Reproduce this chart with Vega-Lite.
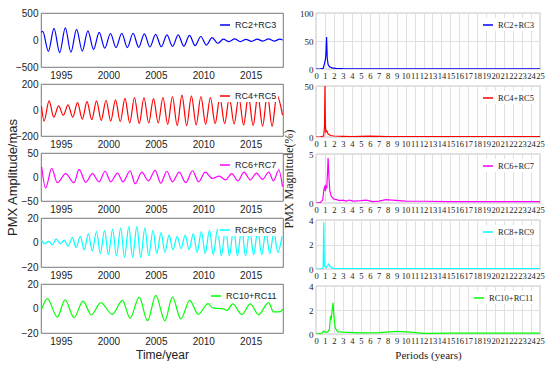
{
  "$schema": "https://vega.github.io/schema/vega-lite/v6.json",
  "padding": {"left": 5, "top": 7, "right": 0, "bottom": 0},
  "background": "white",
  "spacing": -3,
  "config": {
    "view": {"stroke": "#555555", "strokeWidth": 0.8},
    "axis": {"domain": false, "ticks": false, "grid": false, "labelColor": "#222222", "titleColor": "#222222", "titleFontWeight": "normal", "labelPadding": 3},
    "legend": {"orient": "top-right", "title": null, "offset": 5, "padding": 1, "fillColor": "white", "symbolType": "stroke", "symbolStrokeWidth": 1.5, "symbolSize": 100, "labelColor": "#222222"}
  },
  "resolve": {"scale": {"color": "independent", "x": "independent", "y": "independent"}, "legend": {"color": "independent"}},
  "datasets": {
    "p1": [
      {"t": 1992.95, "v": 140}, {"t": 1993.08, "v": 160}, {"t": 1993.68, "v": -210}, {"t": 1994.27, "v": 215}, {"t": 1994.87, "v": -235},
      {"t": 1995.46, "v": 225}, {"t": 1996.05, "v": -225}, {"t": 1996.65, "v": 195}, {"t": 1997.25, "v": -205}, {"t": 1997.84, "v": 170},
      {"t": 1998.44, "v": -175}, {"t": 1999.03, "v": 140}, {"t": 1999.62, "v": -150}, {"t": 2000.22, "v": 120}, {"t": 2000.81, "v": -140},
      {"t": 2001.41, "v": 125}, {"t": 2002.0, "v": -140}, {"t": 2002.6, "v": 125}, {"t": 2003.19, "v": -135}, {"t": 2003.79, "v": 115},
      {"t": 2004.38, "v": -130}, {"t": 2004.98, "v": 105}, {"t": 2005.57, "v": -125}, {"t": 2006.17, "v": 95}, {"t": 2006.76, "v": -120},
      {"t": 2007.36, "v": 95}, {"t": 2007.95, "v": -115}, {"t": 2008.55, "v": 85}, {"t": 2009.14, "v": -105}, {"t": 2009.74, "v": 65},
      {"t": 2010.33, "v": -95}, {"t": 2010.93, "v": 45}, {"t": 2011.52, "v": -60}, {"t": 2012.12, "v": 15}, {"t": 2012.71, "v": -30},
      {"t": 2013.31, "v": 20}, {"t": 2013.9, "v": -30}, {"t": 2014.5, "v": 10}, {"t": 2015.09, "v": -25}, {"t": 2015.69, "v": 15},
      {"t": 2016.28, "v": -20}, {"t": 2016.88, "v": 20}, {"t": 2017.47, "v": -20}, {"t": 2018.07, "v": 15}, {"t": 2018.35, "v": 0}
    ],
    "p2": [
      {"t": 1992.95, "v": 30}, {"t": 1993.22, "v": -85}, {"t": 1993.75, "v": 70}, {"t": 1994.25, "v": -55}, {"t": 1994.75, "v": 31},
      {"t": 1995.25, "v": -40}, {"t": 1995.75, "v": 39}, {"t": 1996.25, "v": -55}, {"t": 1996.75, "v": 57}, {"t": 1997.25, "v": -70},
      {"t": 1997.75, "v": 65}, {"t": 1998.25, "v": -75}, {"t": 1998.75, "v": 70}, {"t": 1999.25, "v": -80}, {"t": 1999.75, "v": 75},
      {"t": 2000.25, "v": -85}, {"t": 2000.75, "v": 78}, {"t": 2001.25, "v": -90}, {"t": 2001.75, "v": 90}, {"t": 2002.25, "v": -100},
      {"t": 2002.75, "v": 96}, {"t": 2003.25, "v": -105}, {"t": 2003.75, "v": 96}, {"t": 2004.25, "v": -100}, {"t": 2004.75, "v": 88},
      {"t": 2005.25, "v": -100}, {"t": 2005.75, "v": 96}, {"t": 2006.25, "v": -110}, {"t": 2006.75, "v": 104}, {"t": 2007.25, "v": -120},
      {"t": 2007.75, "v": 114}, {"t": 2008.25, "v": -120}, {"t": 2008.75, "v": 109}, {"t": 2009.25, "v": -115}, {"t": 2009.75, "v": 104},
      {"t": 2010.25, "v": -110}, {"t": 2010.75, "v": 96}, {"t": 2011.25, "v": -105}, {"t": 2011.75, "v": 96}, {"t": 2012.25, "v": -105},
      {"t": 2012.75, "v": 96}, {"t": 2013.25, "v": -108}, {"t": 2013.75, "v": 100}, {"t": 2014.25, "v": -115}, {"t": 2014.75, "v": 110},
      {"t": 2015.25, "v": -120}, {"t": 2015.75, "v": 114}, {"t": 2016.25, "v": -125}, {"t": 2016.75, "v": 122}, {"t": 2017.25, "v": -125},
      {"t": 2017.75, "v": 115}, {"t": 2018.35, "v": -40}
    ],
    "p3": [
      {"t": 1992.97, "v": 21}, {"t": 1993.39, "v": -23}, {"t": 1994.03, "v": 18}, {"t": 1994.62, "v": -12}, {"t": 1995.5, "v": 7},
      {"t": 1996.38, "v": -12}, {"t": 1996.91, "v": 16}, {"t": 1997.61, "v": -11}, {"t": 1998.31, "v": 7}, {"t": 1999.02, "v": -10},
      {"t": 1999.65, "v": 12}, {"t": 2000.25, "v": -10}, {"t": 2000.95, "v": 8}, {"t": 2001.55, "v": -10}, {"t": 2002.29, "v": 13},
      {"t": 2002.82, "v": -14}, {"t": 2003.52, "v": 10}, {"t": 2004.22, "v": -8}, {"t": 2004.93, "v": 14}, {"t": 2005.52, "v": -13},
      {"t": 2006.16, "v": 12}, {"t": 2006.75, "v": -10}, {"t": 2007.46, "v": 10}, {"t": 2008.16, "v": -12}, {"t": 2008.86, "v": 13},
      {"t": 2009.5, "v": -10}, {"t": 2010.2, "v": 10}, {"t": 2010.97, "v": -3}, {"t": 2011.68, "v": 2}, {"t": 2012.35, "v": -6},
      {"t": 2013.0, "v": 7}, {"t": 2013.65, "v": -8}, {"t": 2014.3, "v": 10}, {"t": 2014.95, "v": -6}, {"t": 2015.6, "v": 8},
      {"t": 2016.25, "v": -5}, {"t": 2016.9, "v": 10}, {"t": 2017.4, "v": -8}, {"t": 2017.95, "v": 15}, {"t": 2018.35, "v": -20}
    ],
    "p4": [
      {"t": 1992.95, "v": 2}, {"t": 1993.3, "v": -1}, {"t": 1993.7, "v": 1}, {"t": 1994.1, "v": -2}, {"t": 1994.5, "v": 3},
      {"t": 1994.95, "v": -1}, {"t": 1995.35, "v": 2}, {"t": 1995.75, "v": -3}, {"t": 1996.2, "v": 4}, {"t": 1996.6, "v": -4},
      {"t": 1997.05, "v": 5}, {"t": 1997.45, "v": -6}, {"t": 1997.9, "v": 7}, {"t": 1998.3, "v": -7}, {"t": 1998.75, "v": 9},
      {"t": 1999.15, "v": -9}, {"t": 1999.6, "v": 10}, {"t": 2000.0, "v": -10}, {"t": 2000.45, "v": 11}, {"t": 2000.85, "v": -11},
      {"t": 2001.3, "v": 12}, {"t": 2001.7, "v": -12}, {"t": 2002.15, "v": 13}, {"t": 2002.55, "v": -12}, {"t": 2003.0, "v": 13},
      {"t": 2003.4, "v": -12}, {"t": 2003.85, "v": 12}, {"t": 2004.25, "v": -11}, {"t": 2004.7, "v": 10}, {"t": 2005.1, "v": -9},
      {"t": 2005.55, "v": 8}, {"t": 2005.95, "v": -8}, {"t": 2006.4, "v": 6}, {"t": 2006.8, "v": -6}, {"t": 2007.25, "v": 5},
      {"t": 2007.65, "v": -5}, {"t": 2008.1, "v": 6}, {"t": 2008.5, "v": -6}, {"t": 2008.95, "v": 7}, {"t": 2009.35, "v": -8},
      {"t": 2009.8, "v": 9}, {"t": 2010.2, "v": -9}, {"t": 2010.65, "v": 10}, {"t": 2011.05, "v": -10}, {"t": 2011.5, "v": 11},
      {"t": 2011.9, "v": -11}, {"t": 2012.35, "v": 12}, {"t": 2012.75, "v": -11}, {"t": 2013.2, "v": 12}, {"t": 2013.6, "v": -11},
      {"t": 2014.05, "v": 12}, {"t": 2014.45, "v": -11}, {"t": 2014.9, "v": 11}, {"t": 2015.3, "v": -10}, {"t": 2015.75, "v": 10},
      {"t": 2016.15, "v": -10}, {"t": 2016.6, "v": 9}, {"t": 2017.0, "v": -9}, {"t": 2017.45, "v": 8}, {"t": 2017.85, "v": -8},
      {"t": 2018.3, "v": 5}
    ],
    "p5": [
      {"t": 1993.0, "v": 0}, {"t": 1993.57, "v": 8}, {"t": 1994.62, "v": -7}, {"t": 1995.43, "v": 7}, {"t": 1996.38, "v": -7.5},
      {"t": 1997.33, "v": 6}, {"t": 1998.2, "v": -5.3}, {"t": 1999.2, "v": 4.8}, {"t": 2000.42, "v": -4.8}, {"t": 2001.48, "v": 6.7},
      {"t": 2002.29, "v": -8}, {"t": 2003.24, "v": 9.3}, {"t": 2004.12, "v": -10}, {"t": 2005.0, "v": 10.7}, {"t": 2005.95, "v": -10},
      {"t": 2006.75, "v": 9.3}, {"t": 2007.63, "v": -8.5}, {"t": 2008.58, "v": 6.7}, {"t": 2009.46, "v": -4.8}, {"t": 2010.5, "v": 4},
      {"t": 2011.0, "v": 0.5}, {"t": 2011.7, "v": 0}, {"t": 2012.2, "v": -0.5}, {"t": 2012.5, "v": -1.5}, {"t": 2013.1, "v": 3.8},
      {"t": 2014.07, "v": -5}, {"t": 2014.95, "v": 3.8}, {"t": 2015.82, "v": -5}, {"t": 2016.88, "v": 4.8}, {"t": 2017.4, "v": -2.7},
      {"t": 2018.15, "v": -2.5}, {"t": 2018.35, "v": -0.5}
    ],
    "s1": [
      {"p": 0, "m": 0}, {"p": 0.5, "m": 0.2}, {"p": 0.8, "m": 1}, {"p": 0.95, "m": 10}, {"p": 1.05, "m": 17}, {"p": 1.12, "m": 30},
      {"p": 1.18, "m": 57}, {"p": 1.25, "m": 20}, {"p": 1.35, "m": 8}, {"p": 1.5, "m": 4}, {"p": 1.8, "m": 2}, {"p": 2.2, "m": 1},
      {"p": 3, "m": 0.5}, {"p": 5, "m": 0.3}, {"p": 10, "m": 0.2}, {"p": 15, "m": 0.1}, {"p": 20, "m": 0.1}, {"p": 25, "m": 0.1}
    ],
    "s2": [
      {"p": 0, "m": 0}, {"p": 0.5, "m": 0.2}, {"p": 0.85, "m": 1}, {"p": 0.95, "m": 10}, {"p": 1.0, "m": 50}, {"p": 1.05, "m": 12},
      {"p": 1.1, "m": 5}, {"p": 1.2, "m": 6}, {"p": 1.35, "m": 3}, {"p": 1.6, "m": 1.5}, {"p": 2, "m": 1}, {"p": 3, "m": 0.7},
      {"p": 4, "m": 0.5}, {"p": 6, "m": 0.8}, {"p": 8, "m": 0.5}, {"p": 10, "m": 0.4}, {"p": 12, "m": 0.5}, {"p": 15, "m": 0.3},
      {"p": 20, "m": 0.3}, {"p": 25, "m": 0.3}
    ],
    "s3": [
      {"p": 0, "m": 0}, {"p": 0.5, "m": 0.05}, {"p": 0.75, "m": 0.3}, {"p": 0.9, "m": 1.5}, {"p": 1.0, "m": 1.7}, {"p": 1.05, "m": 1.2},
      {"p": 1.12, "m": 1.8}, {"p": 1.2, "m": 1.5}, {"p": 1.28, "m": 3}, {"p": 1.35, "m": 4.6}, {"p": 1.45, "m": 2.5}, {"p": 1.55, "m": 1.2},
      {"p": 1.7, "m": 0.7}, {"p": 2, "m": 0.4}, {"p": 2.3, "m": 0.35}, {"p": 2.6, "m": 0.25}, {"p": 3, "m": 0.3}, {"p": 3.4, "m": 0.2},
      {"p": 3.7, "m": 0.3}, {"p": 4.2, "m": 0.2}, {"p": 5, "m": 0.25}, {"p": 5.6, "m": 0.3}, {"p": 6.3, "m": 0.15}, {"p": 7, "m": 0.2},
      {"p": 7.8, "m": 0.35}, {"p": 8.5, "m": 0.3}, {"p": 10, "m": 0.2}, {"p": 12, "m": 0.18}, {"p": 15, "m": 0.15}, {"p": 20, "m": 0.15},
      {"p": 25, "m": 0.15}
    ],
    "s4": [
      {"p": 0, "m": 0}, {"p": 0.6, "m": 0.02}, {"p": 0.8, "m": 0.1}, {"p": 0.87, "m": 3.8}, {"p": 0.93, "m": 0.3}, {"p": 1.1, "m": 0.1},
      {"p": 1.3, "m": 0.3}, {"p": 1.4, "m": 0.4}, {"p": 1.5, "m": 0.3}, {"p": 1.7, "m": 0.1}, {"p": 2, "m": 0.05}, {"p": 5, "m": 0.03},
      {"p": 25, "m": 0.03}
    ],
    "s5": [
      {"p": 0, "m": 0}, {"p": 0.6, "m": 0.05}, {"p": 0.85, "m": 0.25}, {"p": 1.0, "m": 0.15}, {"p": 1.3, "m": 0.15}, {"p": 1.5, "m": 0.4},
      {"p": 1.62, "m": 1.5}, {"p": 1.7, "m": 1.2}, {"p": 1.8, "m": 2}, {"p": 1.9, "m": 2.6}, {"p": 2.0, "m": 1.5}, {"p": 2.15, "m": 0.5},
      {"p": 2.4, "m": 0.2}, {"p": 3, "m": 0.15}, {"p": 5, "m": 0.1}, {"p": 7, "m": 0.12}, {"p": 9, "m": 0.22}, {"p": 10.5, "m": 0.15},
      {"p": 12, "m": 0.05}, {"p": 15, "m": 0.08}, {"p": 20, "m": 0.08}, {"p": 25, "m": 0.08}
    ]
  },
  "hconcat": [
    {
      "bounds": "flush",
      "spacing": 17,
      "resolve": {"scale": {"color": "independent", "x": "independent", "y": "independent"}, "legend": {"color": "independent"}},
      "vconcat": [
        {
          "width": 242, "height": 54, "data": {"name": "p1"},
          "mark": {"type": "line", "interpolate": "monotone", "strokeWidth": 1.2, "clip": true},
          "encoding": {
            "x": {"field": "t", "type": "quantitative", "scale": {"domain": [1992.9, 2018.4], "nice": false, "zero": false}, "axis": {"values": [1995, 2000, 2005, 2010, 2015], "format": "d", "title": null, "labelFont": "Liberation Sans", "labelFontSize": 10}},
            "y": {"field": "v", "type": "quantitative", "scale": {"domain": [-500, 500], "nice": false}, "axis": {"values": [-500, 0, 500], "title": null, "labelFont": "Liberation Sans", "labelFontSize": 10}},
            "color": {"datum": "RC2+RC3", "type": "nominal", "scale": {"domain": ["RC2+RC3"], "range": ["#0000ff"]}, "legend": {"labelFont": "Liberation Sans", "labelFontSize": 9}}
          }
        },
        {
          "width": 242, "height": 52, "data": {"name": "p2"},
          "mark": {"type": "line", "interpolate": "monotone", "strokeWidth": 1.2, "clip": true},
          "encoding": {
            "x": {"field": "t", "type": "quantitative", "scale": {"domain": [1992.9, 2018.4], "nice": false, "zero": false}, "axis": {"values": [1995, 2000, 2005, 2010, 2015], "format": "d", "title": null, "labelFont": "Liberation Sans", "labelFontSize": 10}},
            "y": {"field": "v", "type": "quantitative", "scale": {"domain": [-200, 200], "nice": false}, "axis": {"values": [-200, 0, 200], "title": null, "labelFont": "Liberation Sans", "labelFontSize": 10}},
            "color": {"datum": "RC4+RC5", "type": "nominal", "scale": {"domain": ["RC4+RC5"], "range": ["#ff0000"]}, "legend": {"labelFont": "Liberation Sans", "labelFontSize": 9}}
          }
        },
        {
          "width": 242, "height": 48, "data": {"name": "p3"},
          "mark": {"type": "line", "interpolate": "monotone", "strokeWidth": 1.2, "clip": true},
          "encoding": {
            "x": {"field": "t", "type": "quantitative", "scale": {"domain": [1992.9, 2018.4], "nice": false, "zero": false}, "axis": {"values": [1995, 2000, 2005, 2010, 2015], "format": "d", "title": null, "labelFont": "Liberation Sans", "labelFontSize": 10}},
            "y": {"field": "v", "type": "quantitative", "scale": {"domain": [-50, 50], "nice": false}, "axis": {"values": [-50, 0, 50], "title": "PMX Amplitude/mas", "titleFont": "Liberation Sans", "titleFontSize": 13, "titleX": -22, "labelFont": "Liberation Sans", "labelFontSize": 10}},
            "color": {"datum": "RC6+RC7", "type": "nominal", "scale": {"domain": ["RC6+RC7"], "range": ["#ff00ff"]}, "legend": {"labelFont": "Liberation Sans", "labelFontSize": 9}}
          }
        },
        {
          "width": 242, "height": 49, "data": {"name": "p4"},
          "mark": {"type": "line", "interpolate": "monotone", "strokeWidth": 1.2, "clip": true},
          "encoding": {
            "x": {"field": "t", "type": "quantitative", "scale": {"domain": [1992.9, 2018.4], "nice": false, "zero": false}, "axis": {"values": [1995, 2000, 2005, 2010, 2015], "format": "d", "title": null, "labelFont": "Liberation Sans", "labelFontSize": 10}},
            "y": {"field": "v", "type": "quantitative", "scale": {"domain": [-20, 20], "nice": false}, "axis": {"values": [-20, 0, 20], "title": null, "labelFont": "Liberation Sans", "labelFontSize": 10}},
            "color": {"datum": "RC8+RC9", "type": "nominal", "scale": {"domain": ["RC8+RC9"], "range": ["#00ffff"]}, "legend": {"labelFont": "Liberation Sans", "labelFontSize": 9}}
          }
        },
        {
          "width": 242, "height": 49, "data": {"name": "p5"},
          "mark": {"type": "line", "interpolate": "monotone", "strokeWidth": 1.2, "clip": true},
          "encoding": {
            "x": {"field": "t", "type": "quantitative", "scale": {"domain": [1992.9, 2018.4], "nice": false, "zero": false}, "axis": {"values": [1995, 2000, 2005, 2010, 2015], "format": "d", "title": "Time/year", "titleFont": "Liberation Sans", "titleFontSize": 12, "titlePadding": 3, "labelFont": "Liberation Sans", "labelFontSize": 10}},
            "y": {"field": "v", "type": "quantitative", "scale": {"domain": [-20, 20], "nice": false}, "axis": {"values": [-20, 0, 20], "title": null, "labelFont": "Liberation Sans", "labelFontSize": 10}},
            "color": {"datum": "RC10+RC11", "type": "nominal", "scale": {"domain": ["RC10+RC11"], "range": ["#00ff00"]}, "legend": {"labelFont": "Liberation Sans", "labelFontSize": 9}}
          }
        }
      ]
    },
    {
      "bounds": "flush",
      "spacing": 17,
      "resolve": {"scale": {"color": "independent", "x": "independent", "y": "independent"}, "legend": {"color": "independent"}},
      "vconcat": [
        {
          "width": 224, "height": 56, "data": {"name": "s1"},
          "mark": {"type": "line", "strokeWidth": 1.2, "clip": true},
          "encoding": {
            "x": {"field": "p", "type": "quantitative", "scale": {"domain": [0, 25], "nice": false}, "axis": {"values": [0,1,2,3,4,5,6,7,8,9,10,11,12,13,14,15,16,17,18,19,20,21,22,23,24,25], "labelOverlap": false, "labelFlush": false, "title": null, "grid": true, "gridColor": "#e0e0e0", "labelFont": "Liberation Serif", "labelFontSize": 8.5, "labelPadding": 2}},
            "y": {"field": "m", "type": "quantitative", "scale": {"domain": [0, 100], "nice": false}, "axis": {"values": [0, 50, 100], "title": null, "grid": true, "gridColor": "#e0e0e0", "labelFont": "Liberation Serif", "labelFontSize": 9}},
            "color": {"datum": "RC2+RC3", "type": "nominal", "scale": {"domain": ["RC2+RC3"], "range": ["#0000ff"]}, "legend": {"labelFont": "Liberation Serif", "labelFontSize": 8.5}}
          }
        },
        {
          "width": 224, "height": 51, "data": {"name": "s2"},
          "mark": {"type": "line", "strokeWidth": 1.2, "clip": true},
          "encoding": {
            "x": {"field": "p", "type": "quantitative", "scale": {"domain": [0, 25], "nice": false}, "axis": {"values": [0,1,2,3,4,5,6,7,8,9,10,11,12,13,14,15,16,17,18,19,20,21,22,23,24,25], "labelOverlap": false, "labelFlush": false, "title": null, "grid": true, "gridColor": "#e0e0e0", "labelFont": "Liberation Serif", "labelFontSize": 8.5, "labelPadding": 2}},
            "y": {"field": "m", "type": "quantitative", "scale": {"domain": [0, 50], "nice": false}, "axis": {"values": [0, 50], "title": null, "grid": true, "gridColor": "#e0e0e0", "labelFont": "Liberation Serif", "labelFontSize": 9}},
            "color": {"datum": "RC4+RC5", "type": "nominal", "scale": {"domain": ["RC4+RC5"], "range": ["#ff0000"]}, "legend": {"labelFont": "Liberation Serif", "labelFontSize": 8.5}}
          }
        },
        {
          "width": 224, "height": 49, "data": {"name": "s3"},
          "mark": {"type": "line", "strokeWidth": 1.2, "clip": true},
          "encoding": {
            "x": {"field": "p", "type": "quantitative", "scale": {"domain": [0, 25], "nice": false}, "axis": {"values": [0,1,2,3,4,5,6,7,8,9,10,11,12,13,14,15,16,17,18,19,20,21,22,23,24,25], "labelOverlap": false, "labelFlush": false, "title": null, "grid": true, "gridColor": "#e0e0e0", "labelFont": "Liberation Serif", "labelFontSize": 8.5, "labelPadding": 2}},
            "y": {"field": "m", "type": "quantitative", "scale": {"domain": [0, 5], "nice": false}, "axis": {"values": [0, 5], "title": "PMX Magnitude(%)", "titleFont": "Liberation Serif", "titleFontSize": 12, "titleX": -21, "grid": true, "gridColor": "#e0e0e0", "labelFont": "Liberation Serif", "labelFontSize": 9}},
            "color": {"datum": "RC6+RC7", "type": "nominal", "scale": {"domain": ["RC6+RC7"], "range": ["#ff00ff"]}, "legend": {"labelFont": "Liberation Serif", "labelFontSize": 8.5}}
          }
        },
        {
          "width": 224, "height": 49, "data": {"name": "s4"},
          "mark": {"type": "line", "strokeWidth": 1.2, "clip": true},
          "encoding": {
            "x": {"field": "p", "type": "quantitative", "scale": {"domain": [0, 25], "nice": false}, "axis": {"values": [0,1,2,3,4,5,6,7,8,9,10,11,12,13,14,15,16,17,18,19,20,21,22,23,24,25], "labelOverlap": false, "labelFlush": false, "title": null, "grid": true, "gridColor": "#e0e0e0", "labelFont": "Liberation Serif", "labelFontSize": 8.5, "labelPadding": 2}},
            "y": {"field": "m", "type": "quantitative", "scale": {"domain": [0, 4], "nice": false}, "axis": {"values": [0, 2, 4], "title": null, "grid": true, "gridColor": "#e0e0e0", "labelFont": "Liberation Serif", "labelFontSize": 9}},
            "color": {"datum": "RC8+RC9", "type": "nominal", "scale": {"domain": ["RC8+RC9"], "range": ["#00ffff"]}, "legend": {"labelFont": "Liberation Serif", "labelFontSize": 8.5}}
          }
        },
        {
          "width": 224, "height": 48, "data": {"name": "s5"},
          "mark": {"type": "line", "strokeWidth": 1.2, "clip": true},
          "encoding": {
            "x": {"field": "p", "type": "quantitative", "scale": {"domain": [0, 25], "nice": false}, "axis": {"values": [0,1,2,3,4,5,6,7,8,9,10,11,12,13,14,15,16,17,18,19,20,21,22,23,24,25], "labelOverlap": false, "labelFlush": false, "title": "Periods (years)", "titleFont": "Liberation Serif", "titleFontSize": 11, "titlePadding": 5, "grid": true, "gridColor": "#e0e0e0", "labelFont": "Liberation Serif", "labelFontSize": 8.5, "labelPadding": 2}},
            "y": {"field": "m", "type": "quantitative", "scale": {"domain": [0, 4], "nice": false}, "axis": {"values": [0, 2, 4], "title": null, "grid": true, "gridColor": "#e0e0e0", "labelFont": "Liberation Serif", "labelFontSize": 9}},
            "color": {"datum": "RC10+RC11", "type": "nominal", "scale": {"domain": ["RC10+RC11"], "range": ["#00ff00"]}, "legend": {"labelFont": "Liberation Serif", "labelFontSize": 8.5}}
          }
        }
      ]
    }
  ]
}
